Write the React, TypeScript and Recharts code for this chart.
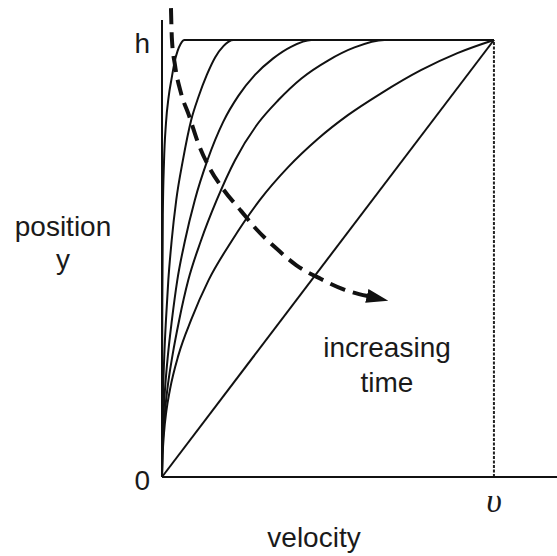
import React from 'react';
import { LineChart, Line, XAxis, YAxis, ReferenceLine } from 'recharts';

// u = velocity / v, y = position / h
const velocityTicks = [1];
const positionTicks = [0, 1];
const positionTickLabels = ['0', 'h'];
const velocityTickLabel = 'υ';

// velocity profiles, earliest (steepest) first
const profile1 = [
  [0, 0], [0.0003, 0.2], [0.001, 0.4], [0.0025, 0.6], [0.006, 0.72], [0.012, 0.81],
  [0.02, 0.87], [0.029, 0.912], [0.038, 0.95], [0.047, 0.975], [0.056, 0.991],
  [0.068, 1], [1, 1],
];
const profile2 = [
  [0, 0], [0.0002, 0.05], [0.0008, 0.1], [0.002, 0.15], [0.0035, 0.2], [0.007, 0.28],
  [0.012, 0.36], [0.019, 0.45], [0.029, 0.54], [0.043, 0.634], [0.063, 0.725],
  [0.088, 0.817], [0.11, 0.87], [0.135, 0.92], [0.16, 0.96], [0.185, 0.986],
  [0.215, 1], [1, 1],
];
const profile3 = [
  [0, 0], [0.0005, 0.05], [0.002, 0.1], [0.005, 0.15], [0.009, 0.2], [0.018, 0.28],
  [0.03, 0.36], [0.046, 0.45], [0.069, 0.54], [0.099, 0.634], [0.137, 0.725],
  [0.184, 0.812], [0.23, 0.872], [0.28, 0.92], [0.335, 0.958], [0.39, 0.985],
  [0.45, 1], [1, 1],
];
const profile4 = [
  [0, 0], [0.001, 0.05], [0.004, 0.1], [0.009, 0.15], [0.016, 0.2], [0.032, 0.28],
  [0.052, 0.36], [0.079, 0.45], [0.117, 0.54], [0.165, 0.634], [0.22, 0.725],
  [0.29, 0.81], [0.35, 0.862], [0.42, 0.912], [0.5, 0.953], [0.58, 0.983],
  [0.67, 1], [1, 1],
];
const profile5 = [
  [0, 0], [0.002, 0.05], [0.006, 0.1], [0.013, 0.15], [0.024, 0.2], [0.05, 0.28],
  [0.088, 0.36], [0.14, 0.45], [0.21, 0.54], [0.295, 0.634], [0.38, 0.709],
  [0.47, 0.774], [0.56, 0.828], [0.66, 0.878], [0.78, 0.931], [0.89, 0.97], [1, 1],
];
const steadyProfile = [[0, 0], [1, 1]];

// "increasing time" arrow
const timeArrow = [
  [0.027, 1.073], [0.03, 1.0], [0.039, 0.943], [0.057, 0.879], [0.081, 0.828],
  [0.111, 0.76], [0.142, 0.709], [0.184, 0.659], [0.238, 0.609], [0.283, 0.568],
  [0.343, 0.524], [0.404, 0.485], [0.479, 0.453], [0.545, 0.43], [0.62, 0.414],
];

const wallVelocity = [[1, 0], [1, 1]];

const toPoints = (pts: number[][]) => pts.map(([u, y]) => ({ u, y }));

const profiles = [profile1, profile2, profile3, profile4, profile5, steadyProfile];

const ink = '#111';
const textStyle: React.CSSProperties = {
  fontFamily: '"Liberation Sans", Arial, sans-serif',
  fontSize: 28,
  fill: '#1a1a1a',
};

export default function App() {
  return (
    <div style={{ position: 'absolute', left: 0, top: 0, width: 557, height: 556, background: '#fff' }}>
      <LineChart width={557} height={556} margin={{ top: 0, right: 0, bottom: 0, left: 0 }}>
        <defs>
          <marker
            id="timeHead"
            viewBox="0 0 22 14"
            refX={1}
            refY={7}
            markerWidth={22}
            markerHeight={14}
            markerUnits="userSpaceOnUse"
            orient="auto"
          >
            <path d="M0,0 L22,7 L0,14 z" fill={ink} />
          </marker>
        </defs>
        <XAxis
          type="number"
          dataKey="u"
          domain={[0, 1.19]}
          ticks={velocityTicks}
          interval={0}
          tickFormatter={() => velocityTickLabel}
          tickLine={false}
          tickMargin={5}
          height={79}
          axisLine={{ stroke: ink, strokeWidth: 2 }}
          tick={{
            fontFamily: '"Liberation Serif", "Times New Roman", serif',
            fontStyle: 'italic',
            fontSize: 34,
            fill: '#1a1a1a',
          }}
        />
        <YAxis
          type="number"
          dataKey="y"
          domain={[0, 1.0915]}
          ticks={positionTicks}
          interval={0}
          tickFormatter={(v: number) => positionTickLabels[positionTicks.indexOf(v)]}
          tickLine={false}
          axisLine={false}
          tickMargin={6}
          width={162}
          tick={{ ...textStyle, dy: 3 }}
        />
        <ReferenceLine
          segment={[{ x: 0, y: 0 }, { x: 0, y: 1.046 }]}
          stroke={ink}
          strokeWidth={2}
        />
        <Line
          data={toPoints(wallVelocity)}
          dataKey="y"
          type="linear"
          dot={false}
          stroke="#222"
          strokeWidth={2}
          strokeDasharray="3 1.5"
          isAnimationActive={false}
        />
        {profiles.map((p, i) => (
          <Line
            key={i}
            data={toPoints(p)}
            dataKey="y"
            type="monotone"
            dot={false}
            stroke={ink}
            strokeWidth={2}
            isAnimationActive={false}
          />
        ))}
        <Line
          data={toPoints(timeArrow)}
          dataKey="y"
          type="monotone"
          dot={false}
          stroke={ink}
          strokeWidth={4}
          strokeDasharray="16 8"
          markerEnd="url(#timeHead)"
          isAnimationActive={false}
        />
        <g>
          <text x={63} y={236} textAnchor="middle" style={textStyle}>position</text>
          <text x={63} y={269} textAnchor="middle" style={textStyle}>y</text>
          <text x={387} y={357} textAnchor="middle" style={textStyle}>increasing</text>
          <text x={387} y={392} textAnchor="middle" style={textStyle}>time</text>
          <text x={314} y={547} textAnchor="middle" style={textStyle}>velocity</text>
        </g>
      </LineChart>
    </div>
  );
}
